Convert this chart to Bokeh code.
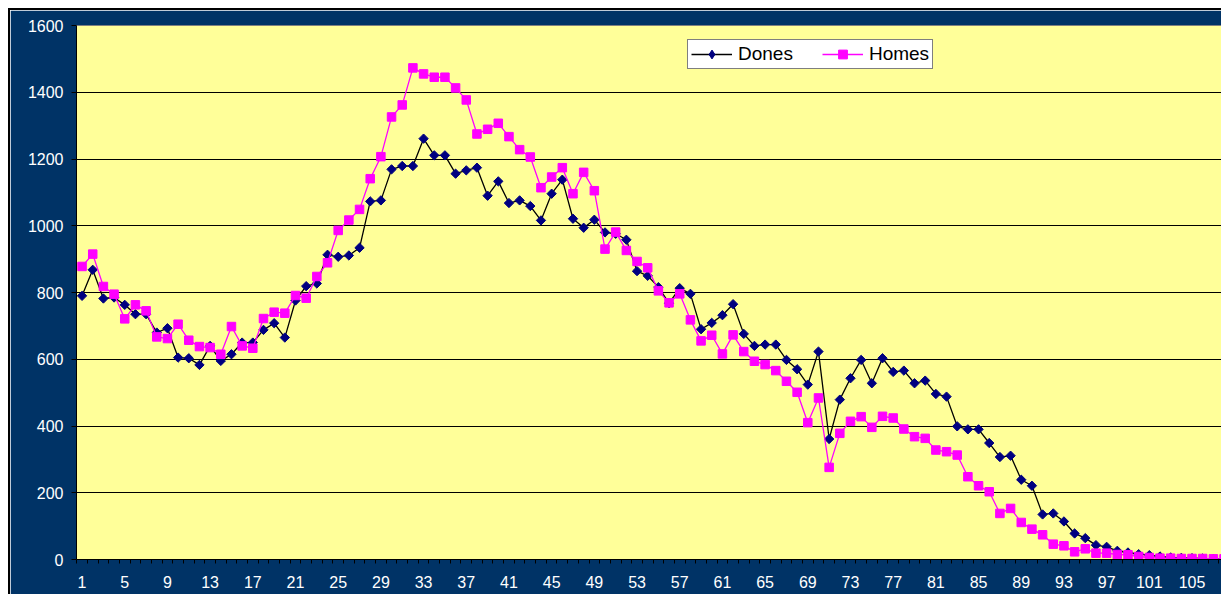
import numpy as np
from bokeh.plotting import figure
from bokeh.models import Range1d, FixedTicker, Legend, LegendItem, ColumnDataSource
from bokeh.embed import file_html
from bokeh.resources import INLINE

categories = list(range(1, 109))
dones = [790, 868, 782, 785, 763, 735, 735, 680, 693, 605,
         603, 583, 640, 595, 615, 650, 650, 688, 708, 665,
         776, 819, 827, 913, 907, 911, 934, 1073, 1076, 1169,
         1179, 1179, 1261, 1211, 1211, 1156, 1166, 1174, 1090, 1133,
         1068, 1076, 1059, 1016, 1096, 1138, 1021, 994, 1018, 980,
         976, 958, 864, 850, 816, 768, 813, 796, 690, 709,
         732, 765, 676, 640, 644, 644, 598, 570, 524, 623,
         361, 479, 543, 598, 528, 603, 562, 566, 528, 536,
         496, 488, 399, 390, 390, 349, 307, 311, 239, 221,
         135, 138, 114, 78, 64, 43, 38, 26, 21, 16,
         13, 9, 6, 5, 4, 3, 2, 2]
homes = [878, 915, 818, 795, 721, 763, 745, 667, 662, 705,
         657, 638, 635, 615, 698, 640, 633, 722, 741, 738,
         791, 783, 848, 889, 986, 1017, 1049, 1141, 1207, 1326,
         1362, 1473, 1455, 1445, 1445, 1413, 1377, 1275, 1289, 1307,
         1267, 1228, 1206, 1114, 1146, 1174, 1096, 1160, 1105, 930,
         981, 926, 893, 874, 805, 769, 796, 718, 655, 672,
         616, 673, 623, 594, 584, 566, 534, 501, 410, 484,
         276, 378, 414, 428, 396, 429, 424, 391, 368, 363,
         328, 323, 313, 248, 221, 203, 138, 153, 111, 91,
         74, 46, 41, 23, 32, 19, 19, 15, 14, 9,
         6, 4, 4, 3, 3, 3, 2, 2]
label_ticks = list(range(1, 109, 4))
tick_labels = [str(c) for c in label_ticks]
y_ticks = list(range(0, 1601, 200))

src = ColumnDataSource(dict(x=categories, dones=dones, homes=homes))
# legend-only source: a single undefined point, so nothing is drawn in the plot
legend_src = ColumnDataSource(dict(x=[np.nan], y=[np.nan]))

p = figure(width=1213, height=586, output_backend="svg", toolbar_location=None,
           x_range=Range1d(0.48, 107.95), y_range=Range1d(0, 1600),
           min_border_left=66, min_border_right=0, min_border_top=15, min_border_bottom=37)
p.margin = (8, 0, 0, 8)
p.styles = {"border-top": "2px solid black", "border-left": "2px solid black"}

p.background_fill_color = "#FFFF99"
p.border_fill_color = "#003366"
p.outline_line_color = "#808080"
p.outline_line_width = 1

# grid
p.xgrid.visible = False
p.ygrid.grid_line_color = "black"
p.ygrid.grid_line_width = 1

# y axis
p.yaxis.ticker = FixedTicker(ticks=y_ticks)
p.yaxis.axis_line_color = "black"
p.yaxis.major_tick_line_color = "black"
p.yaxis.major_tick_out = 5
p.yaxis.major_tick_in = 0
p.yaxis.minor_tick_line_color = None
p.yaxis.major_label_text_color = "white"
p.yaxis.major_label_text_font = "Liberation Sans"
p.yaxis.major_label_text_font_size = "16px"
p.yaxis.major_label_standoff = 8

# x axis
p.xaxis.ticker = FixedTicker(ticks=label_ticks,
                             minor_ticks=[c - 0.5 for c in categories] + [categories[-1] + 0.5])
p.xaxis.major_label_overrides = {t: l for t, l in zip(label_ticks, tick_labels)}
p.xaxis.axis_line_color = "black"
p.xaxis.major_tick_line_color = None
p.xaxis.major_tick_out = 4
p.xaxis.major_tick_in = 0
p.xaxis.minor_tick_line_color = "black"
p.xaxis.minor_tick_out = 4
p.xaxis.minor_tick_in = 0
p.xaxis.major_label_text_color = "white"
p.xaxis.major_label_text_font = "Liberation Sans"
p.xaxis.major_label_text_font_size = "16px"
p.xaxis.major_label_standoff = 12

l1 = p.line("x", "dones", source=src, line_color="black", line_width=1.3)
s1 = p.scatter("x", "dones", source=src, marker="square", angle=np.pi / 4, size=6.6,
               fill_color="#000080", line_color="#000080")
l2 = p.line("x", "homes", source=src, line_color="#FF00FF", line_width=1.3)
s2 = p.scatter("x", "homes", source=src, marker="square", size=8.5,
               fill_color="#FF00FF", line_color="#FF00FF")
# legend-only diamond glyph (legend markers are drawn unrotated)
d_leg = p.scatter("x", "y", source=legend_src, marker="diamond", size=9,
                  fill_color="#000080", line_color="#000080")

legend = Legend(items=[LegendItem(label="Dones", renderers=[l1, d_leg]),
                       LegendItem(label="Homes", renderers=[l2, s2])],
                orientation="horizontal", location=(611, 490),
                label_text_font="Liberation Sans", label_text_font_size="19px",
                label_text_color="black", glyph_width=41, glyph_height=22,
                label_standoff=6, spacing=29, padding=3, margin=0,
                border_line_color="black", border_line_width=1,
                background_fill_color="white", background_fill_alpha=1.0)
p.add_layout(legend)

open("out.html", "w").write(file_html(p, INLINE))
